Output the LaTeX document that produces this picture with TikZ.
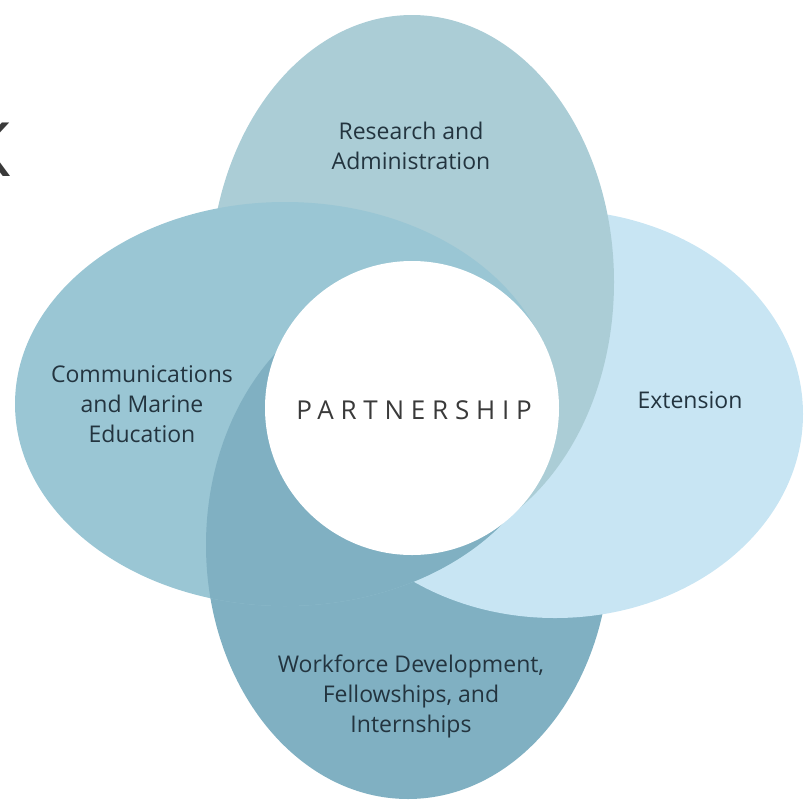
\documentclass[tikz,border=0pt]{standalone}
\usepackage{fontspec}
\setmainfont{Open Sans}
\newfontfamily\partfont[LetterSpace=26]{Open Sans}
\definecolor{colT}{HTML}{ABCDD6}
\definecolor{colL}{HTML}{9AC6D4}
\definecolor{colR}{HTML}{C8E5F3}
\definecolor{colB}{HTML}{80B0C2}
\definecolor{txt}{HTML}{23343F}
\definecolor{ptxt}{HTML}{3A3A3A}
\begin{document}
\begin{tikzpicture}[x=1pt,y=-1pt,
  lbl/.style={font=\fontsize{23}{30}\selectfont, text=txt, align=center, inner sep=0pt},
  partstyle/.style={font=\fontsize{26}{26}\partfont, text=ptxt, inner sep=0pt},
  corecircle/.style={circle, fill=white, minimum size=294pt, inner sep=0pt}]
\useasboundingbox (0,0) rectangle (809,804);
\clip (0,0) rectangle (809,804);
% ellipses in cyclic overlap order
\fill[colB] (408,545) ellipse [x radius=202pt, y radius=254pt];
\fill[colR] (555,414) ellipse [x radius=248pt, y radius=204pt];
\fill[colT] (412,282) ellipse [x radius=202pt, y radius=267pt];
\fill[colL] (285,404) ellipse [x radius=270pt, y radius=202pt];
\begin{scope}
  \clip (285,404) ellipse [x radius=270pt, y radius=202pt];
  \fill[colB] (408,545) ellipse [x radius=202pt, y radius=254pt];
\end{scope}
\node[corecircle] (core) at (412,408) {};
\node[partstyle] (partner) at (414,410) {PARTNERSHIP};
\node[lbl] (research) at (411,146) {Research and\\Administration};
\node[lbl] (comm) at (142,404) {Communications\\and Marine\\Education};
\node[lbl] (ext) at (690,400) {Extension};
\node[lbl] (work) at (411,696) {Workforce Development,\\Fellowships, and\\Internships};
\node[font=\fontsize{75}{75}\selectfont, text=ptxt, inner sep=0pt, anchor=east] (kletter) at (11,150) {K};
\end{tikzpicture}
\end{document}
